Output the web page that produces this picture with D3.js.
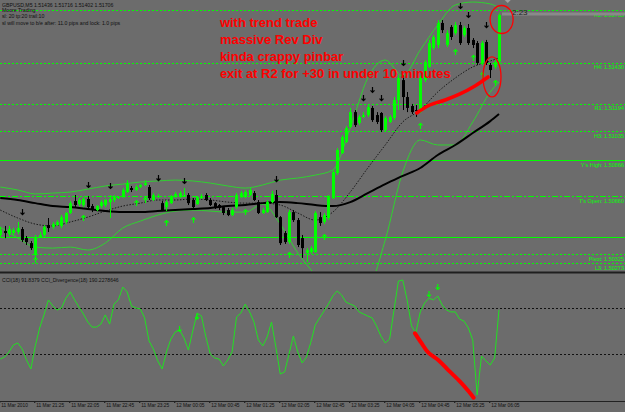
<!DOCTYPE html>
<html>
<head>
<meta charset="utf-8">
<script src="https://cdn.jsdelivr.net/npm/d3@7"></script>
<style>
  body { margin: 0; background: #6c6c6c; }
  svg { display: block; font-family: "Liberation Sans", Arial, sans-serif; }
</style>
</head>
<body>
<div id="chart"></div>
<script>
// GBPUSD M5, 11 Mar 20:45 -> 12 Mar 06:15 (115 bars)
const opens = [
  1.50435,1.50458,1.50440,1.50446,1.50452,1.50469,1.50417,1.50388,1.50319,1.50423,
  1.50435,1.50492,1.50481,1.50492,1.50487,1.50510,1.50562,1.50631,1.50614,1.50608,
  1.50643,1.50602,1.50579,1.50602,1.50608,1.50625,1.50637,1.50648,1.50660,1.50683,
  1.50706,1.50695,1.50712,1.50724,1.50712,1.50637,1.50654,1.50619,1.50596,1.50619,
  1.50654,1.50654,1.50660,1.50666,1.50637,1.50614,1.50648,1.50666,1.50637,1.50619,
  1.50608,1.50596,1.50579,1.50550,1.50596,1.50654,1.50654,1.50666,1.50677,1.50625,
  1.50562,1.50567,1.50625,1.50666,1.50538,1.50446,1.50394,1.50567,1.50521,1.50417,
  1.50331,1.50336,1.50336,1.50538,1.50510,1.50533,1.50648,1.50793,1.50908,1.50972,
  1.51059,1.51145,1.51082,1.51117,1.51128,1.51169,1.51128,1.51140,1.51041,1.51088,
  1.51111,1.51215,1.51330,1.51232,1.51180,1.51157,1.51145,1.51330,1.51406,1.51515,
  1.51533,1.51660,1.51533,1.51637,1.51602,1.51648,1.51591,1.51631,1.51562,1.51544,
  1.51429,1.51550,1.51417,1.51406,1.51436
];
const highs = [
  1.50481,1.50487,1.50487,1.50475,1.50510,1.50481,1.50429,1.50400,1.50435,1.50452,
  1.50492,1.50533,1.50510,1.50521,1.50550,1.50567,1.50631,1.50666,1.50648,1.50654,
  1.50660,1.50614,1.50608,1.50637,1.50643,1.50666,1.50666,1.50660,1.50706,1.50752,
  1.50718,1.50724,1.50729,1.50752,1.50724,1.50677,1.50672,1.50631,1.50637,1.50666,
  1.50683,1.50689,1.50706,1.50677,1.50648,1.50660,1.50672,1.50677,1.50648,1.50625,
  1.50614,1.50602,1.50591,1.50591,1.50677,1.50689,1.50695,1.50706,1.50689,1.50637,
  1.50591,1.50637,1.50689,1.50695,1.50544,1.50458,1.50579,1.50579,1.50533,1.50435,
  1.50359,1.50371,1.50573,1.50567,1.50562,1.50666,1.50810,1.50937,1.51012,1.51065,
  1.51169,1.51157,1.51128,1.51145,1.51186,1.51180,1.51145,1.51145,1.51122,1.51128,
  1.51232,1.51359,1.51359,1.51261,1.51192,1.51186,1.51354,1.51446,1.51562,1.51591,
  1.51677,1.51677,1.51619,1.51648,1.51666,1.51666,1.51643,1.51654,1.51573,1.51556,
  1.51556,1.51562,1.51429,1.51446,1.51716
];
const lows = [
  1.50423,1.50417,1.50429,1.50435,1.50440,1.50394,1.50377,1.50348,1.50302,1.50417,
  1.50423,1.50452,1.50469,1.50487,1.50475,1.50498,1.50556,1.50596,1.50602,1.50596,
  1.50585,1.50567,1.50573,1.50591,1.50596,1.50533,1.50625,1.50643,1.50648,1.50677,
  1.50683,1.50689,1.50706,1.50718,1.50637,1.50631,1.50648,1.50573,1.50573,1.50614,
  1.50648,1.50648,1.50654,1.50608,1.50585,1.50608,1.50643,1.50631,1.50602,1.50585,
  1.50579,1.50550,1.50544,1.50544,1.50585,1.50648,1.50648,1.50660,1.50631,1.50556,
  1.50556,1.50562,1.50619,1.50533,1.50377,1.50383,1.50383,1.50510,1.50365,1.50302,
  1.50278,1.50325,1.50331,1.50487,1.50498,1.50521,1.50643,1.50781,1.50903,1.50966,
  1.51053,1.51059,1.51070,1.51111,1.51117,1.51088,1.51076,1.51030,1.51030,1.51082,
  1.51099,1.51157,1.51157,1.51145,1.51134,1.51117,1.51140,1.51319,1.51400,1.51504,
  1.51515,1.51602,1.51521,1.51562,1.51591,1.51533,1.51579,1.51533,1.51515,1.51417,
  1.51417,1.51417,1.51342,1.51394,1.51402
];
const closes = [
  1.50463,1.50446,1.50469,1.50463,1.50475,1.50406,1.50394,1.50359,1.50423,1.50435,
  1.50481,1.50475,1.50498,1.50510,1.50538,1.50562,1.50619,1.50608,1.50637,1.50643,
  1.50596,1.50579,1.50602,1.50625,1.50637,1.50643,1.50654,1.50654,1.50695,1.50735,
  1.50695,1.50712,1.50724,1.50735,1.50648,1.50666,1.50660,1.50579,1.50625,1.50660,
  1.50672,1.50677,1.50666,1.50619,1.50596,1.50654,1.50660,1.50637,1.50608,1.50596,
  1.50591,1.50562,1.50550,1.50579,1.50666,1.50677,1.50683,1.50695,1.50637,1.50562,
  1.50579,1.50625,1.50672,1.50538,1.50388,1.50394,1.50567,1.50521,1.50377,1.50359,
  1.50348,1.50359,1.50562,1.50504,1.50550,1.50654,1.50799,1.50926,1.51001,1.51053,
  1.51145,1.51070,1.51117,1.51128,1.51174,1.51099,1.51088,1.51041,1.51111,1.51117,
  1.51215,1.51342,1.51232,1.51169,1.51145,1.51151,1.51342,1.51434,1.51544,1.51579,
  1.51660,1.51619,1.51602,1.51579,1.51648,1.51544,1.51631,1.51544,1.51533,1.51429,
  1.51544,1.51429,1.51388,1.51434,1.51706
];

// indicator lines, read every 4 bars
const lineBars = [0,4,8,12,16,20,24,28,32,36,40,44,48,52,56,60,64,68,72,76,80,84,88,92,96,100,104,108,112,114];
const bbUpper = [1.50712,1.50695,1.50672,1.50677,1.50683,1.50700,1.50718,1.50729,1.50741,1.50747,
  1.50752,1.50747,1.50735,1.50718,1.50706,1.50724,1.50752,1.50764,1.50781,1.50810,
  1.51053,1.51342,1.51446,1.51354,1.51504,1.51648,1.51764,1.51781,1.51770,1.51747];
const bbLower = [1.50481,1.50417,1.50365,1.50359,1.50365,1.50348,1.50388,1.50475,1.50515,1.50550,
  1.50573,1.50579,1.50573,1.50567,1.50567,1.50614,1.50498,1.50331,1.50203,1.50059,
  1.50059,1.50117,1.50406,1.50799,1.50984,1.50955,1.50955,1.51088,1.51261,1.51319];
const maSlow = [1.50648,1.50637,1.50619,1.50602,1.50596,1.50585,1.50573,1.50567,1.50567,1.50573,
  1.50579,1.50585,1.50591,1.50602,1.50608,1.50619,1.50625,1.50619,1.50608,1.50602,
  1.50625,1.50677,1.50729,1.50776,1.50822,1.50897,1.50955,1.51024,1.51093,1.51134];
const maFast = [1.50579,1.50533,1.50498,1.50487,1.50510,1.50538,1.50573,1.50602,1.50619,1.50637,
  1.50637,1.50643,1.50637,1.50625,1.50619,1.50619,1.50608,1.50562,1.50521,1.50567,
  1.50683,1.50822,1.50955,1.51088,1.51157,1.51261,1.51342,1.51406,1.51440,1.51458];

// fractal arrows
const fractalDownBars = [5,20,25,36,42,63,83,85,87,92,105,107,111];
const fractalDownPrices = [1.50567,1.50724,1.50718,1.50764,1.50747,1.50758,1.51226,1.51273,1.51226,1.51429,1.51758,1.51706,1.51648];
const fractalUpBars = [8,19,31,33,38,44,56,66,74,96,104,108,110,113];
const fractalUpPrices = [1.50290,1.50533,1.50619,1.50637,1.50504,1.50521,1.50567,1.50319,1.50423,1.51065,1.51492,1.51458,1.51359,1.51313];

// pivot / daily levels
const levelNames = ["R2", "H4", "R1", "H3", "Y's High", "T's Open", "", "Pivot", "L3"];
const levelPrices = [1.51735, 1.51430, 1.51194, 1.51035, 1.50866, 1.50660, 1.50423, 1.50325, 1.50273];

// CCI(18)
const cciValues = [
  -122,-113,-91,-61,-52,-78,-126,-165,-65,13,
  70,135,109,91,100,143,170,135,104,74,
  39,17,17,30,70,30,117,135,191,170,
  109,100,96,57,-43,-78,-130,-165,-91,-35,
  -4,4,-30,-83,0,78,65,-26,-100,-117,
  -122,-152,-126,-91,61,78,117,83,39,-39,
  -65,-26,39,-70,-187,-178,-100,-22,-91,-139,
  -113,-48,26,57,87,117,152,174,157,126,
  117,109,83,74,65,57,22,-22,-52,-35,
  91,217,222,135,22,-9,83,122,143,135,
  152,113,91,83,83,52,43,13,-39,-278,
  -109,-130,-148,-117,92
];
const cciLevels = [100, -100];
const cciMarkBars = [41, 45, 98, 100];
const cciMarkValues = [-9, 45, 143, 174];

// time axis
const tickBars = [0,8,16,24,32,40,48,56,64,72,80,88,96,104,112];
const tickLabels = ["11 Mar 2010","11 Mar 21:25","11 Mar 22:05","11 Mar 22:45","11 Mar 23:25",
  "12 Mar 00:05","12 Mar 00:45","12 Mar 01:25","12 Mar 02:05","12 Mar 02:45","12 Mar 03:25",
  "12 Mar 04:05","12 Mar 04:45","12 Mar 05:25","12 Mar 06:05"];

// hand drawn notes
const noteLines = ["with trend trade", "massive Rev Div", "kinda crappy pinbar", "exit at R2 for +30 in under 10 minutes"];
const noteBar = 50.2, notePrice = 1.51637;
const trendBars = [95.2, 98.2, 101.7, 105.1, 108.5, 111.5];
const trendPrices = [1.51140, 1.51186, 1.51215, 1.51250, 1.51296, 1.51348];
const divBars = [94.8, 96.3, 97.8, 100.1, 102.4, 105.1, 107, 108.2];
const divValues = [-10, -53, -93, -126, -170, -220, -261, -290];
const circleBars = [114.6, 112.4];
const circlePrices = [1.51680, 1.51348];

const W = 625, H = 412;
const GREEN = "#00ff00";

const svg = d3.select("#chart").append("svg")
    .attr("width", W)
    .attr("height", H)
    .attr("viewBox", [0, 0, W, H]);

svg.append("rect").attr("width", W).attr("height", H).attr("fill", "#6c6c6c");

const x = d3.scaleLinear().domain([0, closes.length - 1]).range([0.25, 499]);
const y = d3.scaleLinear()
    .domain([levelPrices[levelPrices.length - 1], levelPrices[0]])
    .range([263, 10]);
const yc = d3.scaleLinear().domain([-100, 100]).range([354, 308]);

const defs = svg.append("defs");
defs.append("clipPath").attr("id", "clipTop").append("rect").attr("width", W).attr("height", 271);
defs.append("clipPath").attr("id", "clipBot").append("rect").attr("y", 274).attr("width", W).attr("height", 126);

const upper = svg.append("g").attr("clip-path", "url(#clipTop)");

// levels
function levelDash(name) {
  if (name == "Y's High" || name == "") return null;
  if (name == "T's Open") return "6,2,2,2";
  return "2,2";
}
levelPrices.forEach((p, i) => {
  upper.append("line")
      .attr("x1", 0).attr("x2", W)
      .attr("y1", Math.round(y(p)) + 0.5).attr("y2", Math.round(y(p)) + 0.5)
      .attr("stroke", GREEN)
      .attr("stroke-width", 1)
      .attr("stroke-dasharray", levelDash(levelNames[i]));
  if (levelNames[i])
    upper.append("text")
        .attr("x", 624).attr("y", y(p) + 6.5)
        .attr("text-anchor", "end")
        .attr("fill", GREEN)
        .attr("font-size", 5.5)
        .text(`${levelNames[i]}: ${p.toFixed(5)}`);
});

// bid line
upper.append("line")
    .attr("x1", x(closes.length - 1) + 3).attr("x2", W)
    .attr("y1", y(closes[closes.length - 1]) - 1).attr("y2", y(closes[closes.length - 1]) - 1)
    .attr("stroke", "#8a8a8a").attr("stroke-width", 3);

// bands and moving averages
const sparse = d3.line().x((d, i) => x(lineBars[i])).y(d => y(d)).curve(d3.curveMonotoneX);
[bbUpper, bbLower].forEach(s => upper.append("path")
    .attr("fill", "none").attr("stroke", "#2fd22f").attr("stroke-width", 1)
    .attr("d", sparse(s)));
upper.append("path").attr("fill", "none").attr("stroke", "#1a1a1a")
    .attr("stroke-width", 1).attr("stroke-dasharray", "1.5,1.5")
    .attr("d", sparse(maFast));
upper.append("path").attr("fill", "none").attr("stroke", "#000")
    .attr("stroke-width", 2)
    .attr("d", sparse(maSlow));

// candles
const idx = d3.range(closes.length);
const col = i => closes[i] >= opens[i] ? GREEN : "#000";
upper.selectAll(".wick").data(idx).join("line")
    .attr("x1", i => Math.round(x(i)) + 0.5).attr("x2", i => Math.round(x(i)) + 0.5)
    .attr("y1", i => y(highs[i])).attr("y2", i => y(lows[i]))
    .attr("stroke", col).attr("stroke-width", 1);
upper.selectAll(".body").data(idx).join("rect")
    .attr("x", i => Math.round(x(i)) - 1)
    .attr("width", 3)
    .attr("y", i => y(Math.max(opens[i], closes[i])))
    .attr("height", i => Math.max(1, Math.abs(y(opens[i]) - y(closes[i]))))
    .attr("fill", col);

// fractals
const downArrow = "M0,-3V2.5M-2,0.5L0,2.5L2,0.5";
const upArrow = "M0,3V-2.5M-2,-0.5L0,-2.5L2,-0.5";
fractalDownBars.forEach((b, i) => upper.append("path")
    .attr("transform", `translate(${Math.round(x(b)) + 0.5},${y(fractalDownPrices[i])})`)
    .attr("d", downArrow).attr("fill", "none").attr("stroke", "#000").attr("stroke-width", 1.2));
fractalUpBars.forEach((b, i) => upper.append("path")
    .attr("transform", `translate(${Math.round(x(b)) + 0.5},${y(fractalUpPrices[i])})`)
    .attr("d", upArrow).attr("fill", "none").attr("stroke", GREEN).attr("stroke-width", 1.2));

// red notes on price panel
upper.append("path")
    .attr("fill", "none").attr("stroke", "#ff0000").attr("stroke-width", 3.5)
    .attr("stroke-linecap", "round")
    .attr("d", d3.line().x((d, i) => x(trendBars[i])).y(d => y(d)).curve(d3.curveCatmullRom)(trendPrices));
const circleSize = [[11.5, 14], [9, 20]];
circleBars.forEach((b, i) => upper.append("ellipse")
    .attr("cx", x(b)).attr("cy", y(circlePrices[i]))
    .attr("rx", circleSize[i][0]).attr("ry", circleSize[i][1])
    .attr("fill", "none").attr("stroke", "#ff0000").attr("stroke-width", 1.3));
noteLines.forEach((t, i) => upper.append("text")
    .attr("x", x(noteBar)).attr("y", y(notePrice) + i * 17)
    .attr("fill", "#ff0000").attr("font-weight", "bold").attr("font-size", 13)
    .text(t));

upper.append("text").attr("x", x(closes.length - 1) + 13).attr("y", 15)
    .attr("fill", "#222").attr("font-size", 8).text("2:23");

// header texts
const last = closes.length - 1;
const header = [
  `GBPUSD,M5  ${opens[last].toFixed(5)} ${highs[last].toFixed(5)} ${lows[last].toFixed(5)} ${closes[last].toFixed(5)}`,
  "Moore Trading",
  "sl: 20  tp:20  trail:10",
  "sl will move to b/e after: 11.0 pips    and lock: 1.0 pips"
];
header.forEach((t, i) => svg.append("text")
    .attr("x", 2).attr("y", 6.5 + [0, 5.5, 11, 18.5][i])
    .attr("fill", "#111").attr("font-size", 5.2).text(t));

// panel separator
svg.append("rect").attr("x", 0).attr("y", 271.5).attr("width", W).attr("height", 2).attr("fill", "#1e1e1e");

// CCI panel
const lower = svg.append("g").attr("clip-path", "url(#clipBot)");
cciLevels.forEach(v => lower.append("line")
    .attr("x1", 0).attr("x2", W)
    .attr("y1", Math.round(yc(v)) + 0.5).attr("y2", Math.round(yc(v)) + 0.5)
    .attr("stroke", "#111").attr("stroke-dasharray", "2,2"));
lower.append("path")
    .attr("fill", "none").attr("stroke", "#22e022").attr("stroke-width", 1)
    .attr("d", d3.line().x((d, i) => x(i)).y(d => yc(d))(cciValues));
cciMarkBars.forEach((b, i) => lower.append("path")
    .attr("transform", `translate(${x(b)},${yc(cciMarkValues[i]) - 4})`)
    .attr("d", downArrow).attr("fill", "none").attr("stroke", GREEN).attr("stroke-width", 1.1));
lower.append("path")
    .attr("fill", "none").attr("stroke", "#ff0000").attr("stroke-width", 4)
    .attr("stroke-linecap", "round")
    .attr("d", d3.line().x((d, i) => x(divBars[i])).y(d => yc(d)).curve(d3.curveCatmullRom)(divValues));

svg.append("text").attr("x", 2).attr("y", 282)
    .attr("fill", "#111").attr("font-size", 5.1)
    .text("CCI(18) 91.8379  CCI_Divergence(18) 190.2278646");

// time axis
const xAxis = d3.axisBottom(x)
    .tickValues(tickBars)
    .tickFormat((d, i) => tickLabels[i])
    .tickSize(2)
    .tickSizeOuter(0);
svg.append("g")
    .attr("transform", "translate(-1,401)")
    .call(xAxis)
    .call(g => g.select(".domain").remove())
    .call(g => g.selectAll(".tick line").attr("stroke", "#111"))
    .call(g => g.selectAll(".tick text")
        .attr("text-anchor", "start").attr("x", 1.5).attr("y", 3).attr("dy", "0.71em")
        .attr("fill", "#111").attr("font-size", 4.8)
        .attr("font-family", "'Liberation Sans', Arial, sans-serif"));
svg.append("line").attr("x1", 0).attr("x2", W).attr("y1", 401.5).attr("y2", 401.5)
    .attr("stroke", "#222");

// chart shift marker
svg.append("path")
    .attr("transform", `translate(${x(116)},0)`)
    .attr("d", "M-3,0H3L0,3Z").attr("fill", "#a0a0a0");
</script>
</body>
</html>
